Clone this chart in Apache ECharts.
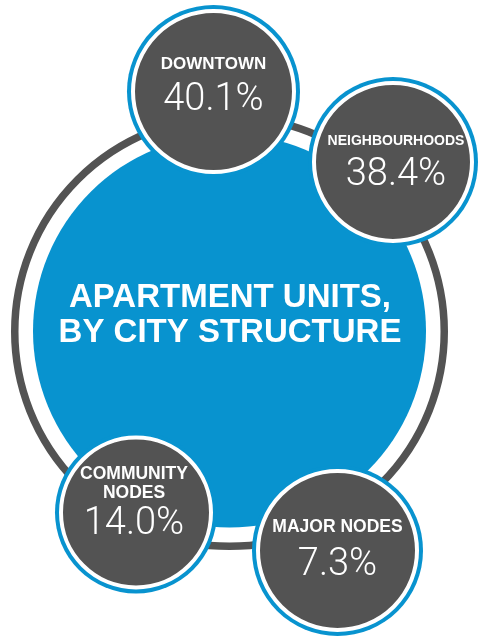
<!DOCTYPE html>
<html>
<head>
<meta charset="utf-8">
<script src="https://cdn.jsdelivr.net/npm/echarts@6/dist/echarts.min.js"></script>
<style>
html,body{margin:0;padding:0;background:#fff;}
#chart{width:480px;height:636px;}
</style>
</head>
<body>
<div id="chart"></div>
<script>
// ---- data ----
const categories = ['DOWNTOWN', 'NEIGHBOURHOODS', 'COMMUNITY\nNODES', 'MAJOR NODES'];
const shares = [40.1, 38.4, 14.0, 7.3];
const chartTitle = 'APARTMENT UNITS,\nBY CITY STRUCTURE';

// ---- layout (pixel positions / sizes, not data) ----
const BLUE = '#0893cf';
const GREY = '#535353';
const hub = { x: 229.5, y: 331.5, r: 196.5, ringR: 214.75, ringW: 7.5 };
const bubbleLayout = [
  { x: 213.5, y: 91.5, r: 86.5, nameSize: 17, valueLH: 52, dx: 0, dy: -1 },
  { x: 393, y: 162, r: 85, nameSize: 14, valueLH: 48, dx: 3, dy: 3.5 },
  { x: 136, y: 512.5, r: 81, nameSize: 17.5, valueLH: 44, dx: -2, dy: -7 },
  { x: 337.5, y: 550.5, r: 85.5, nameSize: 17.5, valueLH: 56, dx: 0, dy: 5 }
];

const chart = echarts.init(document.getElementById('chart'), null, { renderer: 'canvas' });

const richStyles = {};
bubbleLayout.forEach((l, i) => {
  richStyles['n' + i] = {
    color: '#fff', fontFamily: 'Liberation Sans', fontWeight: 'bold',
    fontSize: l.nameSize, lineHeight: 19, align: 'center'
  };
  richStyles['v' + i] = {
    color: '#fff', fontFamily: 'Roboto', fontWeight: 300,
    fontSize: 38, lineHeight: l.valueLH, align: 'center'
  };
});

const outerData = categories.map((c, i) => ({
  value: [bubbleLayout[i].x, bubbleLayout[i].y],
  symbolSize: bubbleLayout[i].r * 2
}));
const innerData = categories.map((c, i) => ({
  name: c,
  value: [bubbleLayout[i].x, bubbleLayout[i].y, shares[i]],
  symbolSize: (bubbleLayout[i].r - 6) * 2,
  label: { offset: [bubbleLayout[i].dx, bubbleLayout[i].dy] }
}));

const option = {
  animation: false,
  backgroundColor: '#fff',
  grid: { left: 0, right: 0, top: 0, bottom: 0 },
  xAxis: { type: 'value', min: 0, max: 480, show: false },
  yAxis: { type: 'value', min: 0, max: 636, inverse: true, show: false },
  series: [
    {
      type: 'scatter', silent: true, clip: false, z: 1,
      data: [[hub.x, hub.y]],
      symbolSize: hub.ringR * 2,
      itemStyle: { color: '#fff', borderColor: GREY, borderWidth: hub.ringW, opacity: 1 },
      emphasis: { disabled: true }
    },
    {
      type: 'scatter', silent: true, clip: false, z: 2,
      data: [[hub.x, hub.y - 0.5]],
      symbolSize: hub.r * 2,
      itemStyle: { color: BLUE, opacity: 1 },
      label: {
        show: true, position: 'inside', offset: [0.5, -15.5],
        formatter: () => chartTitle,
        color: '#fff', fontFamily: 'Liberation Sans', fontWeight: 'bold',
        fontSize: 33, lineHeight: 35, align: 'center'
      },
      emphasis: { disabled: true }
    },
    {
      type: 'scatter', silent: true, clip: false, z: 3,
      data: outerData,
      itemStyle: { color: BLUE, opacity: 1 },
      emphasis: { disabled: true }
    },
    {
      type: 'scatter', silent: true, clip: false, z: 4,
      data: innerData,
      itemStyle: { color: GREY, borderColor: '#fff', borderWidth: 4, opacity: 1 },
      label: {
        show: true, position: 'inside',
        formatter: (p) => {
          const lines = p.name.split('\n').map(s => '{n' + p.dataIndex + '|' + s + '}');
          lines.push('{v' + p.dataIndex + '|' + p.value[2].toFixed(1) + '%}');
          return lines.join('\n');
        },
        rich: richStyles
      },
      emphasis: { disabled: true }
    }
  ]
};
chart.setOption(option);
</script>
</body>
</html>
